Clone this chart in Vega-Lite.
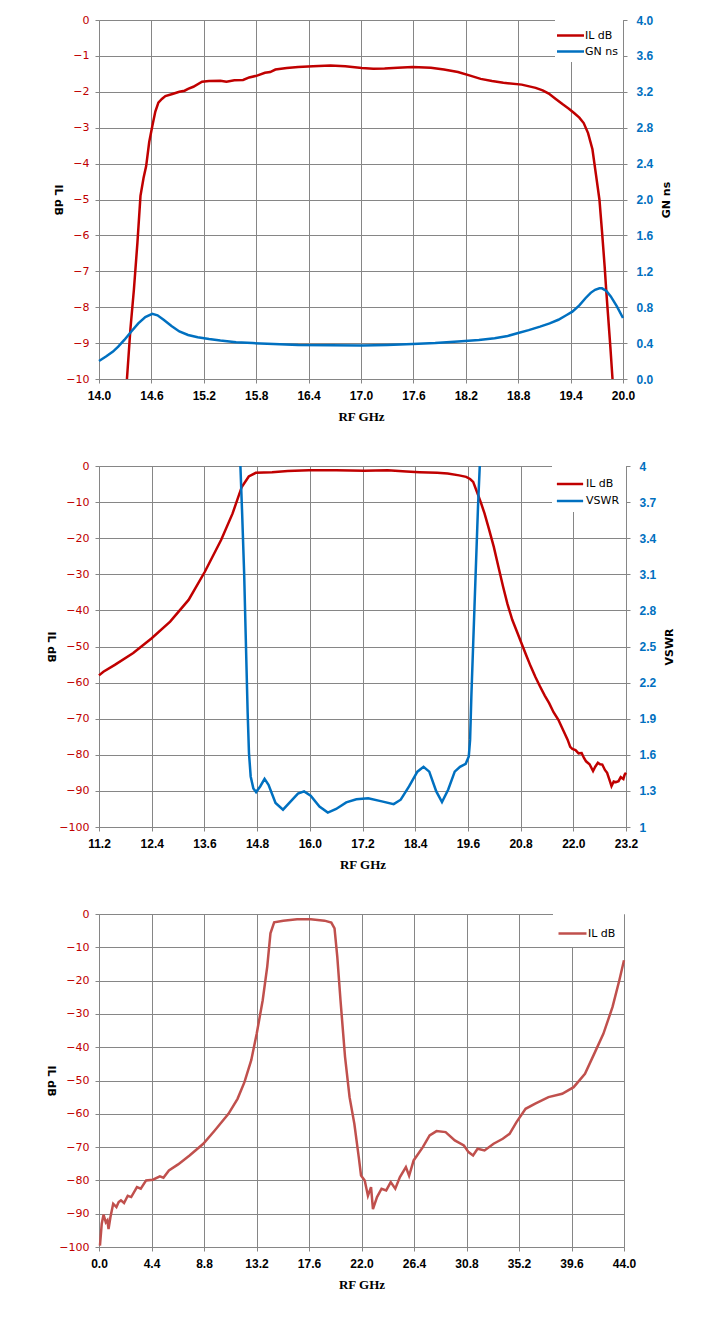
{
  "$schema": "https://vega.github.io/schema/vega-lite/v6.json",
  "description": "Bandpass filter: insertion loss, group delay and VSWR versus frequency.",
  "padding": {"left": 45, "top": 14, "right": 0, "bottom": 0},
  "spacing": 37,
  "resolve": {"scale": {"color": "independent"}, "legend": {"color": "independent"}},
  "config": {
    "view": {"stroke": null},
    "line": {"strokeWidth": 2.5, "clip": true},
    "axis": {
      "gridColor": "#868686", "gridOpacity": 1, "domainColor": "#868686",
      "tickColor": "#868686", "tickSize": 4, "labelPadding": 6, "labelFlush": false
    },
    "axisX": {
      "labelFont": "Liberation Sans", "labelFontWeight": "bold", "labelFontSize": 12,
      "labelColor": "black", "labelPadding": 7, "titleFont": "Liberation Serif",
      "titleFontWeight": "bold", "titleFontSize": 13, "titleColor": "black", "titlePadding": 9
    },
    "axisLeft": {
      "labelFont": "DejaVu Sans", "labelFontSize": 11, "labelColor": "#c00000",
      "titleFont": "DejaVu Sans", "titleFontWeight": "bold", "titleFontSize": 11,
      "titleColor": "black", "titleAngle": 90, "titleBaseline": "top", "titlePadding": 2
    },
    "axisRight": {
      "labelFont": "Liberation Sans", "labelFontWeight": "bold", "labelFontSize": 12,
      "labelColor": "#0070c0", "grid": false, "labelPadding": 9,
      "titleFont": "DejaVu Sans", "titleFontWeight": "bold", "titleFontSize": 11,
      "titleColor": "black", "titleAngle": 270, "titleBaseline": "top", "titlePadding": 8
    },
    "legend": {
      "title": null, "orient": "top-right", "offset": 0, "padding": 5,
      "fillColor": "white", "labelFont": "DejaVu Sans", "labelFontSize": 11,
      "labelColor": "black", "labelOffset": 4, "rowPadding": 0, "symbolStrokeWidth": 3
    }
  },
  "datasets": {
    "il1": [
      {"f": 14.32, "s": "IL dB", "v": -10}, {"f": 14.36, "s": "IL dB", "v": -8.6},
      {"f": 14.40, "s": "IL dB", "v": -7.5}, {"f": 14.44, "s": "IL dB", "v": -6.2},
      {"f": 14.475, "s": "IL dB", "v": -4.9}, {"f": 14.51, "s": "IL dB", "v": -4.4},
      {"f": 14.54, "s": "IL dB", "v": -4.07}, {"f": 14.575, "s": "IL dB", "v": -3.4},
      {"f": 14.61, "s": "IL dB", "v": -2.96}, {"f": 14.645, "s": "IL dB", "v": -2.55},
      {"f": 14.68, "s": "IL dB", "v": -2.3}, {"f": 14.72, "s": "IL dB", "v": -2.2},
      {"f": 14.76, "s": "IL dB", "v": -2.12}, {"f": 14.84, "s": "IL dB", "v": -2.06},
      {"f": 14.92, "s": "IL dB", "v": -2.0}, {"f": 14.98, "s": "IL dB", "v": -1.97},
      {"f": 15.02, "s": "IL dB", "v": -1.92}, {"f": 15.08, "s": "IL dB", "v": -1.86},
      {"f": 15.18, "s": "IL dB", "v": -1.72}, {"f": 15.26, "s": "IL dB", "v": -1.70},
      {"f": 15.39, "s": "IL dB", "v": -1.69}, {"f": 15.46, "s": "IL dB", "v": -1.72},
      {"f": 15.55, "s": "IL dB", "v": -1.68}, {"f": 15.65, "s": "IL dB", "v": -1.67},
      {"f": 15.72, "s": "IL dB", "v": -1.60}, {"f": 15.81, "s": "IL dB", "v": -1.55},
      {"f": 15.90, "s": "IL dB", "v": -1.47}, {"f": 15.96, "s": "IL dB", "v": -1.45},
      {"f": 16.02, "s": "IL dB", "v": -1.38}, {"f": 16.15, "s": "IL dB", "v": -1.34},
      {"f": 16.28, "s": "IL dB", "v": -1.31}, {"f": 16.45, "s": "IL dB", "v": -1.29},
      {"f": 16.65, "s": "IL dB", "v": -1.27}, {"f": 16.82, "s": "IL dB", "v": -1.29},
      {"f": 17.01, "s": "IL dB", "v": -1.34}, {"f": 17.14, "s": "IL dB", "v": -1.36},
      {"f": 17.27, "s": "IL dB", "v": -1.35}, {"f": 17.42, "s": "IL dB", "v": -1.33},
      {"f": 17.59, "s": "IL dB", "v": -1.31}, {"f": 17.80, "s": "IL dB", "v": -1.33},
      {"f": 17.95, "s": "IL dB", "v": -1.38}, {"f": 18.11, "s": "IL dB", "v": -1.45},
      {"f": 18.25, "s": "IL dB", "v": -1.55}, {"f": 18.37, "s": "IL dB", "v": -1.64},
      {"f": 18.50, "s": "IL dB", "v": -1.70}, {"f": 18.63, "s": "IL dB", "v": -1.75},
      {"f": 18.84, "s": "IL dB", "v": -1.80}, {"f": 19.00, "s": "IL dB", "v": -1.89},
      {"f": 19.08, "s": "IL dB", "v": -1.96}, {"f": 19.15, "s": "IL dB", "v": -2.05},
      {"f": 19.23, "s": "IL dB", "v": -2.2}, {"f": 19.31, "s": "IL dB", "v": -2.35},
      {"f": 19.38, "s": "IL dB", "v": -2.47}, {"f": 19.44, "s": "IL dB", "v": -2.59},
      {"f": 19.50, "s": "IL dB", "v": -2.72}, {"f": 19.55, "s": "IL dB", "v": -2.87},
      {"f": 19.60, "s": "IL dB", "v": -3.15}, {"f": 19.65, "s": "IL dB", "v": -3.6},
      {"f": 19.69, "s": "IL dB", "v": -4.3}, {"f": 19.73, "s": "IL dB", "v": -5.0},
      {"f": 19.76, "s": "IL dB", "v": -5.9}, {"f": 19.79, "s": "IL dB", "v": -6.87},
      {"f": 19.81, "s": "IL dB", "v": -7.6}, {"f": 19.83, "s": "IL dB", "v": -8.26},
      {"f": 19.855, "s": "IL dB", "v": -9.1}, {"f": 19.88, "s": "IL dB", "v": -10}
    ],
    "gn1": [
      {"f": 14.00, "s": "GN ns", "v": 0.20}, {"f": 14.08, "s": "GN ns", "v": 0.25},
      {"f": 14.16, "s": "GN ns", "v": 0.305}, {"f": 14.22, "s": "GN ns", "v": 0.36},
      {"f": 14.29, "s": "GN ns", "v": 0.435}, {"f": 14.37, "s": "GN ns", "v": 0.53},
      {"f": 14.45, "s": "GN ns", "v": 0.62}, {"f": 14.53, "s": "GN ns", "v": 0.69},
      {"f": 14.61, "s": "GN ns", "v": 0.726}, {"f": 14.67, "s": "GN ns", "v": 0.71},
      {"f": 14.74, "s": "GN ns", "v": 0.66}, {"f": 14.83, "s": "GN ns", "v": 0.59},
      {"f": 14.92, "s": "GN ns", "v": 0.53}, {"f": 15.02, "s": "GN ns", "v": 0.49},
      {"f": 15.13, "s": "GN ns", "v": 0.465}, {"f": 15.26, "s": "GN ns", "v": 0.445},
      {"f": 15.39, "s": "GN ns", "v": 0.428}, {"f": 15.57, "s": "GN ns", "v": 0.41},
      {"f": 15.76, "s": "GN ns", "v": 0.40}, {"f": 16.00, "s": "GN ns", "v": 0.39},
      {"f": 16.28, "s": "GN ns", "v": 0.38}, {"f": 16.65, "s": "GN ns", "v": 0.375},
      {"f": 17.01, "s": "GN ns", "v": 0.372}, {"f": 17.30, "s": "GN ns", "v": 0.378},
      {"f": 17.59, "s": "GN ns", "v": 0.39}, {"f": 17.85, "s": "GN ns", "v": 0.40},
      {"f": 18.11, "s": "GN ns", "v": 0.417}, {"f": 18.35, "s": "GN ns", "v": 0.435},
      {"f": 18.53, "s": "GN ns", "v": 0.454}, {"f": 18.68, "s": "GN ns", "v": 0.48},
      {"f": 18.79, "s": "GN ns", "v": 0.51}, {"f": 18.92, "s": "GN ns", "v": 0.545},
      {"f": 19.05, "s": "GN ns", "v": 0.584}, {"f": 19.16, "s": "GN ns", "v": 0.62},
      {"f": 19.26, "s": "GN ns", "v": 0.66}, {"f": 19.35, "s": "GN ns", "v": 0.71},
      {"f": 19.42, "s": "GN ns", "v": 0.75}, {"f": 19.50, "s": "GN ns", "v": 0.82},
      {"f": 19.57, "s": "GN ns", "v": 0.90}, {"f": 19.63, "s": "GN ns", "v": 0.96},
      {"f": 19.68, "s": "GN ns", "v": 0.994}, {"f": 19.73, "s": "GN ns", "v": 1.01},
      {"f": 19.76, "s": "GN ns", "v": 1.01}, {"f": 19.81, "s": "GN ns", "v": 0.98},
      {"f": 19.86, "s": "GN ns", "v": 0.92}, {"f": 19.93, "s": "GN ns", "v": 0.81},
      {"f": 20.00, "s": "GN ns", "v": 0.68}
    ],
    "il2": [
      {"f": 11.2, "s": "IL dB", "v": -58.0}, {"f": 11.3, "s": "IL dB", "v": -57.0},
      {"f": 11.56, "s": "IL dB", "v": -55.1}, {"f": 11.98, "s": "IL dB", "v": -51.8},
      {"f": 12.4, "s": "IL dB", "v": -47.7}, {"f": 12.82, "s": "IL dB", "v": -43.1},
      {"f": 13.24, "s": "IL dB", "v": -37.1}, {"f": 13.61, "s": "IL dB", "v": -29.3},
      {"f": 13.98, "s": "IL dB", "v": -20.5}, {"f": 14.24, "s": "IL dB", "v": -13.2},
      {"f": 14.45, "s": "IL dB", "v": -5.8}, {"f": 14.61, "s": "IL dB", "v": -2.9},
      {"f": 14.77, "s": "IL dB", "v": -1.9}, {"f": 15.14, "s": "IL dB", "v": -1.7},
      {"f": 15.5, "s": "IL dB", "v": -1.4}, {"f": 15.98, "s": "IL dB", "v": -1.2},
      {"f": 16.6, "s": "IL dB", "v": -1.2}, {"f": 17.24, "s": "IL dB", "v": -1.3},
      {"f": 17.77, "s": "IL dB", "v": -1.2}, {"f": 18.2, "s": "IL dB", "v": -1.5},
      {"f": 18.5, "s": "IL dB", "v": -1.7}, {"f": 18.9, "s": "IL dB", "v": -1.9},
      {"f": 19.14, "s": "IL dB", "v": -2.1}, {"f": 19.4, "s": "IL dB", "v": -2.6},
      {"f": 19.56, "s": "IL dB", "v": -3.0}, {"f": 19.65, "s": "IL dB", "v": -3.6},
      {"f": 19.72, "s": "IL dB", "v": -4.4}, {"f": 19.82, "s": "IL dB", "v": -7.6},
      {"f": 19.9, "s": "IL dB", "v": -10.3}, {"f": 19.98, "s": "IL dB", "v": -13.2},
      {"f": 20.08, "s": "IL dB", "v": -17.5}, {"f": 20.19, "s": "IL dB", "v": -22.4},
      {"f": 20.3, "s": "IL dB", "v": -28.2}, {"f": 20.4, "s": "IL dB", "v": -33.4},
      {"f": 20.5, "s": "IL dB", "v": -38.2}, {"f": 20.61, "s": "IL dB", "v": -42.6},
      {"f": 20.72, "s": "IL dB", "v": -46.0}, {"f": 20.82, "s": "IL dB", "v": -49.1},
      {"f": 20.93, "s": "IL dB", "v": -52.5}, {"f": 21.03, "s": "IL dB", "v": -55.5},
      {"f": 21.14, "s": "IL dB", "v": -58.5}, {"f": 21.24, "s": "IL dB", "v": -61.0},
      {"f": 21.35, "s": "IL dB", "v": -63.6}, {"f": 21.45, "s": "IL dB", "v": -65.7},
      {"f": 21.55, "s": "IL dB", "v": -68.2}, {"f": 21.66, "s": "IL dB", "v": -70.3},
      {"f": 21.77, "s": "IL dB", "v": -73.2}, {"f": 21.87, "s": "IL dB", "v": -75.8},
      {"f": 21.93, "s": "IL dB", "v": -77.8}, {"f": 21.98, "s": "IL dB", "v": -78.4},
      {"f": 22.05, "s": "IL dB", "v": -78.7}, {"f": 22.12, "s": "IL dB", "v": -79.6},
      {"f": 22.19, "s": "IL dB", "v": -79.5}, {"f": 22.24, "s": "IL dB", "v": -80.8},
      {"f": 22.29, "s": "IL dB", "v": -81.8}, {"f": 22.37, "s": "IL dB", "v": -82.6},
      {"f": 22.45, "s": "IL dB", "v": -84.5}, {"f": 22.5, "s": "IL dB", "v": -83.3},
      {"f": 22.56, "s": "IL dB", "v": -82.2}, {"f": 22.61, "s": "IL dB", "v": -82.6},
      {"f": 22.66, "s": "IL dB", "v": -82.7}, {"f": 22.72, "s": "IL dB", "v": -84.2},
      {"f": 22.77, "s": "IL dB", "v": -85.0}, {"f": 22.82, "s": "IL dB", "v": -86.8},
      {"f": 22.87, "s": "IL dB", "v": -88.7}, {"f": 22.92, "s": "IL dB", "v": -87.4},
      {"f": 22.97, "s": "IL dB", "v": -87.6}, {"f": 23.03, "s": "IL dB", "v": -87.3},
      {"f": 23.08, "s": "IL dB", "v": -86.2}, {"f": 23.14, "s": "IL dB", "v": -86.7},
      {"f": 23.17, "s": "IL dB", "v": -85.5}, {"f": 23.2, "s": "IL dB", "v": -85.0}
    ],
    "vs2": [
      {"f": 14.42, "s": "VSWR", "v": 4.0}, {"f": 14.46, "s": "VSWR", "v": 3.6},
      {"f": 14.505, "s": "VSWR", "v": 3.11}, {"f": 14.54, "s": "VSWR", "v": 2.6},
      {"f": 14.585, "s": "VSWR", "v": 1.95}, {"f": 14.615, "s": "VSWR", "v": 1.614},
      {"f": 14.654, "s": "VSWR", "v": 1.42}, {"f": 14.715, "s": "VSWR", "v": 1.32},
      {"f": 14.777, "s": "VSWR", "v": 1.29}, {"f": 14.87, "s": "VSWR", "v": 1.337},
      {"f": 14.97, "s": "VSWR", "v": 1.40}, {"f": 15.06, "s": "VSWR", "v": 1.35},
      {"f": 15.22, "s": "VSWR", "v": 1.20}, {"f": 15.39, "s": "VSWR", "v": 1.144},
      {"f": 15.56, "s": "VSWR", "v": 1.21}, {"f": 15.73, "s": "VSWR", "v": 1.277},
      {"f": 15.87, "s": "VSWR", "v": 1.296}, {"f": 16.02, "s": "VSWR", "v": 1.26},
      {"f": 16.22, "s": "VSWR", "v": 1.17}, {"f": 16.41, "s": "VSWR", "v": 1.12},
      {"f": 16.60, "s": "VSWR", "v": 1.15}, {"f": 16.83, "s": "VSWR", "v": 1.205},
      {"f": 17.06, "s": "VSWR", "v": 1.23}, {"f": 17.33, "s": "VSWR", "v": 1.238},
      {"f": 17.64, "s": "VSWR", "v": 1.213}, {"f": 17.91, "s": "VSWR", "v": 1.19},
      {"f": 18.07, "s": "VSWR", "v": 1.227}, {"f": 18.26, "s": "VSWR", "v": 1.337},
      {"f": 18.45, "s": "VSWR", "v": 1.46}, {"f": 18.59, "s": "VSWR", "v": 1.50},
      {"f": 18.72, "s": "VSWR", "v": 1.46}, {"f": 18.88, "s": "VSWR", "v": 1.296},
      {"f": 19.01, "s": "VSWR", "v": 1.207}, {"f": 19.15, "s": "VSWR", "v": 1.31},
      {"f": 19.30, "s": "VSWR", "v": 1.46}, {"f": 19.42, "s": "VSWR", "v": 1.50},
      {"f": 19.55, "s": "VSWR", "v": 1.525}, {"f": 19.62, "s": "VSWR", "v": 1.586},
      {"f": 19.65, "s": "VSWR", "v": 1.724}, {"f": 19.68, "s": "VSWR", "v": 2.1},
      {"f": 19.75, "s": "VSWR", "v": 2.83}, {"f": 19.83, "s": "VSWR", "v": 3.66},
      {"f": 19.87, "s": "VSWR", "v": 4.0}
    ],
    "il3": [
      {"f": 0.08, "s": "IL dB", "v": -99.6}, {"f": 0.23, "s": "IL dB", "v": -93},
      {"f": 0.38, "s": "IL dB", "v": -90.3}, {"f": 0.57, "s": "IL dB", "v": -92.6},
      {"f": 0.7, "s": "IL dB", "v": -92.0}, {"f": 0.8, "s": "IL dB", "v": -94.6},
      {"f": 0.96, "s": "IL dB", "v": -91}, {"f": 1.19, "s": "IL dB", "v": -87},
      {"f": 1.46, "s": "IL dB", "v": -88}, {"f": 1.65, "s": "IL dB", "v": -86.5},
      {"f": 1.84, "s": "IL dB", "v": -86}, {"f": 2.1, "s": "IL dB", "v": -86.8},
      {"f": 2.41, "s": "IL dB", "v": -84.6}, {"f": 2.7, "s": "IL dB", "v": -85.0},
      {"f": 3.18, "s": "IL dB", "v": -82}, {"f": 3.5, "s": "IL dB", "v": -82.5},
      {"f": 3.95, "s": "IL dB", "v": -80}, {"f": 4.52, "s": "IL dB", "v": -79.8},
      {"f": 5.1, "s": "IL dB", "v": -78.8}, {"f": 5.4, "s": "IL dB", "v": -79.2},
      {"f": 5.86, "s": "IL dB", "v": -77}, {"f": 6.63, "s": "IL dB", "v": -75.2},
      {"f": 7.59, "s": "IL dB", "v": -72.5}, {"f": 8.74, "s": "IL dB", "v": -69},
      {"f": 9.7, "s": "IL dB", "v": -65}, {"f": 10.85, "s": "IL dB", "v": -60},
      {"f": 11.61, "s": "IL dB", "v": -55.5}, {"f": 12.19, "s": "IL dB", "v": -50.5},
      {"f": 12.76, "s": "IL dB", "v": -43.9}, {"f": 13.22, "s": "IL dB", "v": -35.9},
      {"f": 13.72, "s": "IL dB", "v": -25.9}, {"f": 14.1, "s": "IL dB", "v": -15.8},
      {"f": 14.37, "s": "IL dB", "v": -5.8}, {"f": 14.68, "s": "IL dB", "v": -2.5},
      {"f": 15.45, "s": "IL dB", "v": -2.0}, {"f": 16.6, "s": "IL dB", "v": -1.6},
      {"f": 17.75, "s": "IL dB", "v": -1.6}, {"f": 18.9, "s": "IL dB", "v": -2.0},
      {"f": 19.47, "s": "IL dB", "v": -2.6}, {"f": 19.74, "s": "IL dB", "v": -4.3},
      {"f": 19.97, "s": "IL dB", "v": -12.8}, {"f": 20.24, "s": "IL dB", "v": -25.9},
      {"f": 20.62, "s": "IL dB", "v": -42.9}, {"f": 21.0, "s": "IL dB", "v": -55},
      {"f": 21.4, "s": "IL dB", "v": -63}, {"f": 21.77, "s": "IL dB", "v": -73},
      {"f": 21.96, "s": "IL dB", "v": -78.5}, {"f": 22.27, "s": "IL dB", "v": -80},
      {"f": 22.54, "s": "IL dB", "v": -84.6}, {"f": 22.8, "s": "IL dB", "v": -82},
      {"f": 22.96, "s": "IL dB", "v": -88.6}, {"f": 23.3, "s": "IL dB", "v": -85},
      {"f": 23.68, "s": "IL dB", "v": -82.5}, {"f": 24.07, "s": "IL dB", "v": -83},
      {"f": 24.45, "s": "IL dB", "v": -80.5}, {"f": 24.83, "s": "IL dB", "v": -82.5},
      {"f": 25.22, "s": "IL dB", "v": -79}, {"f": 25.72, "s": "IL dB", "v": -76},
      {"f": 25.99, "s": "IL dB", "v": -78.6}, {"f": 26.37, "s": "IL dB", "v": -74},
      {"f": 27.14, "s": "IL dB", "v": -70}, {"f": 27.71, "s": "IL dB", "v": -66.5},
      {"f": 28.29, "s": "IL dB", "v": -65.2}, {"f": 29.05, "s": "IL dB", "v": -65.5},
      {"f": 29.82, "s": "IL dB", "v": -68}, {"f": 30.58, "s": "IL dB", "v": -69.5},
      {"f": 30.97, "s": "IL dB", "v": -71.5}, {"f": 31.35, "s": "IL dB", "v": -72.5},
      {"f": 31.73, "s": "IL dB", "v": -70.5}, {"f": 32.31, "s": "IL dB", "v": -71},
      {"f": 33.07, "s": "IL dB", "v": -69}, {"f": 33.84, "s": "IL dB", "v": -67.5},
      {"f": 34.41, "s": "IL dB", "v": -66}, {"f": 34.99, "s": "IL dB", "v": -62.5},
      {"f": 35.75, "s": "IL dB", "v": -58.5}, {"f": 36.52, "s": "IL dB", "v": -57},
      {"f": 37.67, "s": "IL dB", "v": -55}, {"f": 38.82, "s": "IL dB", "v": -54},
      {"f": 39.78, "s": "IL dB", "v": -52}, {"f": 40.73, "s": "IL dB", "v": -48},
      {"f": 41.5, "s": "IL dB", "v": -42}, {"f": 42.27, "s": "IL dB", "v": -36},
      {"f": 43.04, "s": "IL dB", "v": -27.9}, {"f": 43.61, "s": "IL dB", "v": -19.9},
      {"f": 44.0, "s": "IL dB", "v": -13.9}
    ]
  },
  "vconcat": [
    {
      "width": 524,
      "height": 359,
      "layer": [
        {
          "data": {"name": "il1"},
          "mark": "line",
          "encoding": {
            "x": {
              "field": "f", "type": "quantitative",
              "scale": {"domain": [14, 20], "nice": false, "zero": false},
              "axis": {"title": "RF GHz", "format": ".1f", "values": [14, 14.6, 15.2, 15.8, 16.4, 17, 17.6, 18.2, 18.8, 19.4, 20]}
            },
            "y": {
              "field": "v", "type": "quantitative",
              "scale": {"domain": [-10, 0], "nice": false},
              "axis": {"title": "IL dB", "format": "d", "values": [-10, -9, -8, -7, -6, -5, -4, -3, -2, -1, 0]}
            },
            "color": {
              "field": "s", "type": "nominal",
              "scale": {"domain": ["IL dB", "GN ns"], "range": ["#c00000", "#0070c0"]},
              "legend": {"symbolType": "M-1.5,0H1.5", "symbolSize": 324}
            }
          }
        },
        {
          "data": {"name": "gn1"},
          "mark": "line",
          "encoding": {
            "x": {"field": "f", "type": "quantitative"},
            "y": {
              "field": "v", "type": "quantitative",
              "scale": {"domain": [0, 4], "nice": false},
              "axis": {"orient": "right", "title": "GN ns", "format": ".1f", "values": [0, 0.4, 0.8, 1.2, 1.6, 2, 2.4, 2.8, 3.2, 3.6, 4]}
            },
            "color": {"field": "s", "type": "nominal"}
          }
        }
      ],
      "resolve": {"scale": {"y": "independent"}}
    },
    {
      "width": 527,
      "height": 361,
      "layer": [
        {
          "data": {"name": "il2"},
          "mark": "line",
          "encoding": {
            "x": {
              "field": "f", "type": "quantitative",
              "scale": {"domain": [11.2, 23.2], "nice": false, "zero": false},
              "axis": {"title": "RF GHz", "format": ".1f", "values": [11.2, 12.4, 13.6, 14.8, 16, 17.2, 18.4, 19.6, 20.8, 22, 23.2]}
            },
            "y": {
              "field": "v", "type": "quantitative",
              "scale": {"domain": [-100, 0], "nice": false},
              "axis": {"title": "IL dB", "format": "d", "values": [-100, -90, -80, -70, -60, -50, -40, -30, -20, -10, 0]}
            },
            "color": {
              "field": "s", "type": "nominal",
              "scale": {"domain": ["IL dB", "VSWR"], "range": ["#c00000", "#0070c0"]},
              "legend": {"symbolType": "M-1.25,0H1.25", "symbolSize": 441, "padding": 6}
            }
          }
        },
        {
          "data": {"name": "vs2"},
          "mark": "line",
          "encoding": {
            "x": {"field": "f", "type": "quantitative"},
            "y": {
              "field": "v", "type": "quantitative",
              "scale": {"domain": [1, 4], "nice": false, "zero": false},
              "axis": {"orient": "right", "title": "VSWR", "format": ".2~f", "values": [1, 1.3, 1.6, 1.9, 2.2, 2.5, 2.8, 3.1, 3.4, 3.7, 4]}
            },
            "color": {"field": "s", "type": "nominal"}
          }
        }
      ],
      "resolve": {"scale": {"y": "independent"}}
    },
    {
      "width": 525,
      "height": 333,
      "data": {"name": "il3"},
      "mark": "line",
      "encoding": {
        "x": {
          "field": "f", "type": "quantitative",
          "scale": {"domain": [0, 44], "nice": false},
          "axis": {"title": "RF GHz", "format": ".1f", "values": [0, 4.4, 8.8, 13.2, 17.6, 22, 26.4, 30.8, 35.2, 39.6, 44]}
        },
        "y": {
          "field": "v", "type": "quantitative",
          "scale": {"domain": [-100, 0], "nice": false},
          "axis": {"title": "IL dB", "format": "d", "values": [-100, -90, -80, -70, -60, -50, -40, -30, -20, -10, 0]}
        },
        "color": {
          "field": "s", "type": "nominal",
          "scale": {"domain": ["IL dB"], "range": ["#c0504d"]},
          "legend": {"symbolType": "M-1.4,0H1.4", "symbolSize": 400, "padding": 8}
        }
      }
    }
  ]
}
